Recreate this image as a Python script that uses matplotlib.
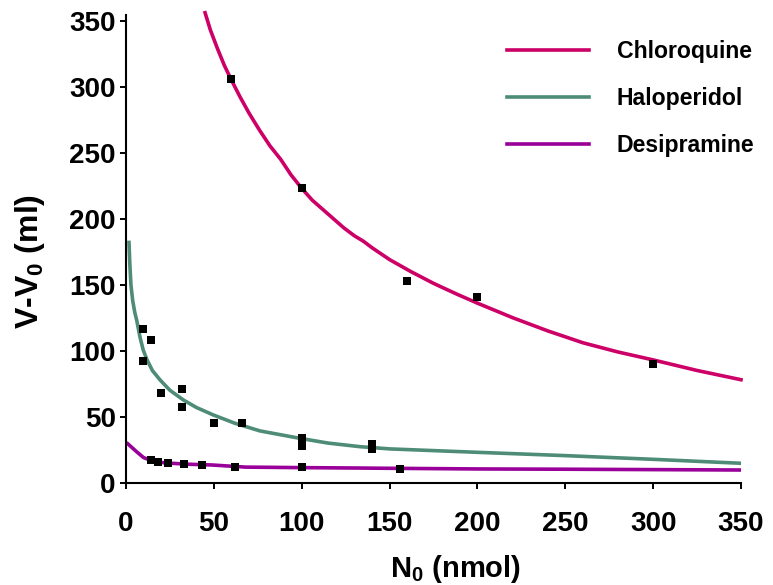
import matplotlib
matplotlib.use("Agg")
import matplotlib.pyplot as plt

plt.rcParams.update({
    "font.family": ["Liberation Sans", "DejaVu Sans"],
    "font.weight": "bold",
    "mathtext.fontset": "custom",
    "mathtext.rm": "Liberation Sans:bold",
    "mathtext.bf": "Liberation Sans:bold",
})

# fitted curves
chloro_x = [45, 48, 52, 56, 60, 65, 70, 76, 82, 88, 94, 100, 106, 112, 118, 124, 130, 135,
            140, 150, 162, 175, 188, 200, 220, 240, 260, 280, 300, 325, 350]
chloro_y = [356, 343, 329, 316, 305, 292, 280, 267, 255, 245, 233, 223, 214, 207, 200, 193, 187, 183,
            178, 169, 160, 151, 143, 136, 125, 115, 106, 99, 93, 85, 78]
halo_x = [1.7, 2.2, 2.8, 3.8, 5, 6.1, 8, 9.8, 12, 15, 19.4, 25, 32.6, 40, 49.7, 62, 76.3, 99,
          115, 133, 150, 200, 250, 300, 350]
halo_y = [182, 165, 150, 138, 129, 123, 110, 100.5, 93, 85, 77.8, 70, 62.7, 57, 51.3, 45, 39.2, 33.6,
          30, 27.3, 25.6, 23, 20.5, 17.7, 14.7]
desi_x = [1, 6, 10, 15, 22, 35, 49, 68, 100, 132, 150, 200, 250, 300, 350]
desi_y = [29.5, 23.5, 19, 16.5, 15, 14, 13.4, 11.8, 11.4, 11.1, 10.9, 10.4, 10.2, 9.9, 9.6]

# measured points
chloro_px = [60, 100, 160, 200, 300]
chloro_py = [306, 223, 152.6, 141, 89.7]
halo_px = [9.8, 14.2, 9.8, 19.9, 32, 32, 50.3, 66.2, 100, 100, 140, 140]
halo_py = [116.2, 108.1, 92.2, 68, 70.8, 57.6, 45, 45, 33.6, 28, 29, 25.3]
desi_px = [14.2, 18.4, 24.1, 33.2, 43.1, 62, 100, 156]
desi_py = [17, 15.9, 14.7, 13.9, 13.2, 11.7, 11.7, 10.1]

C_CHLORO, C_HALO, C_DESI = "#CC0066", "#4E8C78", "#990099"

fig = plt.figure(figsize=(7.73, 5.85), dpi=100)
ax = fig.add_axes([0.163, 0.1749, 0.7956, 0.7995])

lw = 2.6
ax.plot(chloro_x, chloro_y, color=C_CHLORO, lw=lw, label="Chloroquine", clip_on=False, zorder=2)
ax.plot(halo_x, halo_y, color=C_HALO, lw=lw, label="Haloperidol", zorder=2)
ax.plot(desi_x, desi_y, color=C_DESI, lw=lw, label="Desipramine", zorder=2)

for px, py in [(chloro_px, chloro_py), (halo_px, halo_py), (desi_px, desi_py)]:
    ax.plot(px, py, "s", color="black", ms=5.8, mew=0, zorder=3)

ax.set_xlim(0, 350)
ax.set_ylim(0, 354.3)
ax.set_xticks(range(0, 351, 50))
ax.set_yticks(range(0, 351, 50))
for s in ["top", "right"]:
    ax.spines[s].set_visible(False)
for s in ["left", "bottom"]:
    ax.spines[s].set_linewidth(1.5)
ax.tick_params(axis="both", length=4.3, width=1.4, labelsize=20)
ax.tick_params(axis="x", pad=16)
ax.tick_params(axis="y", pad=3)

ax.set_xlabel(r"N$_{0}$ (nmol)", fontsize=21, fontweight="bold")
ax.set_ylabel(r"V-V$_{0}$ (ml)", fontsize=23, fontweight="bold")
ax.xaxis.set_label_coords(0.536, -0.184)
ax.yaxis.set_label_coords(-0.156, 0.474)
ax.xaxis.label.set_va("center")
ax.yaxis.label.set_va("center")

ax.legend(loc="upper left", bbox_to_anchor=(507 / 773, 1 - 40 / 585),
          bbox_transform=fig.transFigure, frameon=False, fontsize=16.6,
          handlelength=3.55, handletextpad=1.22, labelspacing=1.05,
          borderpad=0, borderaxespad=0)

fig.savefig("out.png", dpi=100)
